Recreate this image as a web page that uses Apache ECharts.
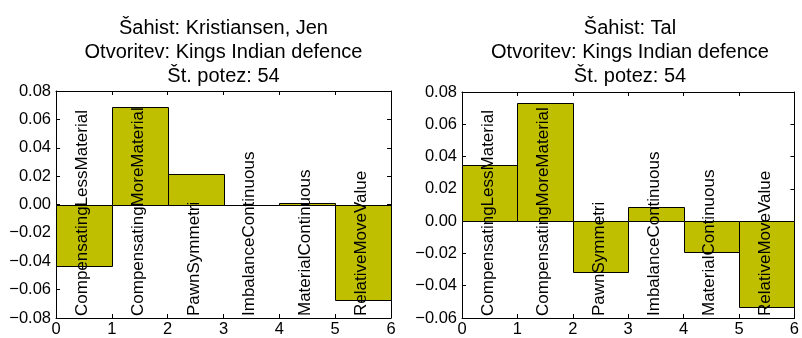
<!DOCTYPE html>
<html>
<head>
<meta charset="utf-8">
<script src="https://cdn.jsdelivr.net/npm/echarts@6/dist/echarts.min.js"></script>
<style>
html,body{margin:0;padding:0;background:#fff;}
#c{width:802px;height:338px;}
</style>
</head>
<body>
<div id="c"></div>
<script>
// ---- data ----
const categories = ['CompensatingLessMaterial', 'CompensatingMoreMaterial', 'PawnSymmetri', 'ImbalanceContinuous', 'MaterialContinuous', 'RelativeMoveValue'];
const kristiansenValues = [-0.043, 0.0685, 0.0215, 0.0, 0.0012, -0.0675];
const talValues = [0.0345, 0.073, -0.0315, 0.009, -0.0193, -0.053];
const titleLeft = 'Šahist: Kristiansen, Jen\nOtvoritev: Kings Indian defence\nŠt. potez: 54';
const titleRight = 'Šahist: Tal\nOtvoritev: Kings Indian defence\nŠt. potez: 54';
const xTickMin = 0, xTickMax = 6, xTickStep = 1;
const yLeftMin = -0.08, yLeftMax = 0.08;
const yRightMin = -0.06, yRightMax = 0.08;
const yTickStep = 0.02;

const FONT = '"Liberation Sans", Arial, Helvetica, sans-serif';
const BAR_COLOR = '#bfbf00';

function fmtY(v) {
  const s = Math.abs(v).toFixed(2);
  if (Math.abs(v) < 1e-9) return '0.00';
  return (v < 0 ? '\u2212' : '') + s;
}

const grids = [
  { left: 56, top: 91, width: 335, height: 228 },
  { left: 462, top: 92, width: 336, height: 227 }
];

function xAxes(gi, pos, show) {
  return {
    type: 'value', gridIndex: gi, position: pos, min: xTickMin, max: xTickMax, interval: xTickStep,
    axisLine: { show: true, onZero: false, lineStyle: { color: '#000', width: 1 } },
    axisTick: { show: true, inside: true, length: 4, lineStyle: { color: '#000' } },
    splitLine: { show: false },
    axisLabel: { show: show, color: '#000', fontSize: 16.5, fontFamily: FONT, margin: 3 }
  };
}
function yAxes(gi, pos, show, mn, mx) {
  return {
    type: 'value', gridIndex: gi, position: pos, min: mn, max: mx, interval: yTickStep,
    axisLine: { show: true, onZero: false, lineStyle: { color: '#000', width: 1 } },
    axisTick: { show: true, inside: true, length: 4, lineStyle: { color: '#000' } },
    splitLine: { show: false },
    axisLabel: { show: show, color: '#000', fontSize: 16.5, fontFamily: FONT, margin: 5, formatter: fmtY }
  };
}

function barSeries(gi, values) {
  return {
    type: 'custom', xAxisIndex: gi * 2, yAxisIndex: gi * 2, z: 2,
    data: values.map((v, i) => [i, v]),
    renderItem: function (params, api) {
      const x0 = api.value(0), v = api.value(1);
      const p1 = api.coord([x0, 0]);
      const p2 = api.coord([x0 + 1, v]);
      const xa = Math.round(p1[0]) + 0.5, xb = Math.round(p2[0]) + 0.5;
      const ya = Math.round(Math.min(p1[1], p2[1])) + 0.5, yb = Math.round(Math.max(p1[1], p2[1])) + 0.5;
      return {
        type: 'rect',
        shape: { x: xa, y: ya, width: xb - xa, height: yb - ya },
        style: { fill: BAR_COLOR, stroke: '#000', lineWidth: 1 }
      };
    }
  };
}

function labelSeries(gi, yMin) {
  return {
    type: 'custom', xAxisIndex: gi * 2, yAxisIndex: gi * 2, z: 5,
    data: categories.map((c, i) => [i, yMin]),
    renderItem: function (params, api) {
      const i = api.value(0);
      const p = api.coord([i + 0.47, api.value(1)]);
      return {
        type: 'text',
        x: p[0], y: p[1] - 2,
        rotation: Math.PI / 2,
        style: { text: categories[i], fontSize: 17, fontFamily: FONT, fill: '#000', align: 'left', verticalAlign: 'middle' }
      };
    }
  };
}

const chart = echarts.init(document.getElementById('c'), null, { renderer: 'canvas' });
chart.setOption({
  backgroundColor: '#fff',
  animation: false,
  title: [
    { text: titleLeft, left: 56 + 335 / 2, top: 16, padding: 0, textAlign: 'center',
      textStyle: { color: '#000', fontSize: 20, fontWeight: 'normal', fontFamily: FONT, lineHeight: 24, align: 'center' } },
    { text: titleRight, left: 462 + 336 / 2, top: 16, padding: 0, textAlign: 'center',
      textStyle: { color: '#000', fontSize: 20, fontWeight: 'normal', fontFamily: FONT, lineHeight: 24, align: 'center' } }
  ],
  grid: grids,
  xAxis: [xAxes(0, 'bottom', true), xAxes(0, 'top', false), xAxes(1, 'bottom', true), xAxes(1, 'top', false)],
  yAxis: [yAxes(0, 'left', true, yLeftMin, yLeftMax), yAxes(0, 'right', false, yLeftMin, yLeftMax),
          yAxes(1, 'left', true, yRightMin, yRightMax), yAxes(1, 'right', false, yRightMin, yRightMax)],
  series: [
    barSeries(0, kristiansenValues), labelSeries(0, yLeftMin),
    barSeries(1, talValues), labelSeries(1, yRightMin)
  ]
});
</script>
</body>
</html>
